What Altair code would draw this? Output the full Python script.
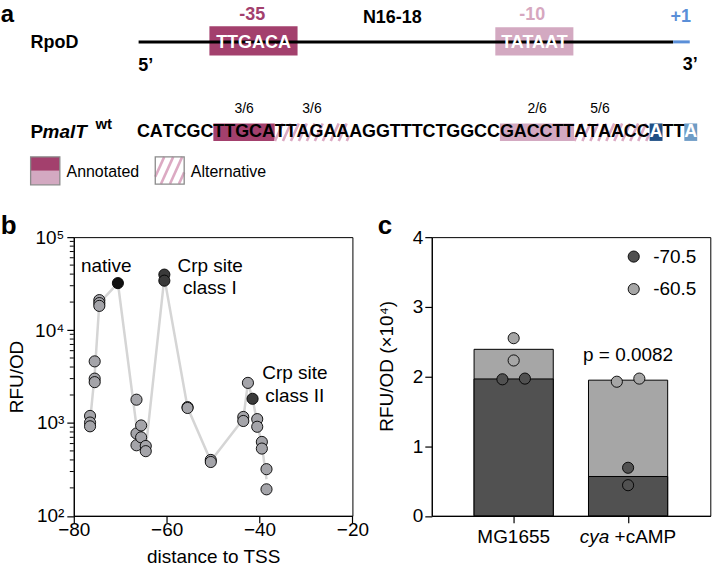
import altair as alt
import pandas as pd

FONT = "Liberation Sans"
MAGENTA = "#a3406d"
PINK = "#d3a9c1"
PINK_TEXT = "#d6a7c0"
STRIPE = "#dcaac3"
BLUE = "#5a8fd8"
DARK = "#515151"
LIGHT = "#a6a6a6"
KIND_FILL = {"variant": "#a4a4a9", "crp": "#3a3a3a", "native": "#111111"}

# ---------------- panel a: promoter sequence ----------------
sequence = "CATCGCTTGCATTAGAAAGGTTTCTGGCCGACCTTATAACCATTA"
motif_ratio = ["3/6", "3/6", "2/6", "5/6"]
motif_start = [7, 12, 30, 35]          # motif span, 1-based inclusive
motif_end = [11, 17, 35, 40]
shade_start = [7, 12, 30, 36]          # shaded span drawn under the letters
shade_end = [11, 17, 35, 41]
motif_kind = ["annotated35", "alternative", "annotated10", "alternative"]
tss_index = [42, 45]
tss_fill = ["#1f4f85", "#6e9cc6"]

# ---------------- panel b: RFU/OD of promoter variants ----------------
b_distance = [-76.5, -75.5, -74.5, -70.5, -66.5, -65.5, -64.5, -60.5,
              -55.5, -50.5, -43.5, -42.5, -41.5, -40.5, -39.5, -38.5]
b_rfu = [[1190, 1010, 920], [4600, 3000, 2750], [21000, 19500, 18200], [32000],
         [1780, 770, 575], [940, 700], [565, 497], [39500, 34000],
         [1480, 1450], [400, 380], [1160, 1050], [2700], [1820],
         [1100, 910], [625, 530], [318, 193]]
b_kind = ["variant"] * 3 + ["native"] + ["variant"] * 3 + ["crp"] + \
         ["variant"] * 4 + ["crp"] + ["variant"] * 3
b_notes = ["native", "Crp site", "class I", "Crp site", "class II"]
b_note_x = [-73.0, -50.65, -50.7, -32.4, -32.4]
b_note_y = [49000, 49000, 28400, 3430, 1960]

# ---------------- panel c: RFU/OD (x10^4) per strain ----------------
c_strains = ["MG1655", "cya +cAMP"]
c_sites = ["-70.5", "-60.5"]
c_strain = ["MG1655"] * 4 + ["cya +cAMP"] * 4
c_site = ["-70.5", "-70.5", "-60.5", "-60.5"] * 2
c_value = [1.96, 1.97, 2.55, 2.23, 0.69, 0.44, 1.925, 1.97]
c_lane = [-1, 1, 0, 0, 0, 0, -1, 1]
p_value = 0.0082

# ---------------- layout (page pixels) ----------------
LEFT, TOP = 73.3, 236.5
W_B, W_C, H = 279.4, 279.3, 279.5
GAP = 79.0
PAGE_W, PAGE_H = 712, 573
SEQ_X0, SEQ_Y, ADV = 136.7, 130, 17.9
SEQ_TOP, SEQ_BOT = 122.5, 140.0
LABEL_Y = 107
GLYPH_EM = {"A": 0.722, "C": 0.722, "G": 0.778, "T": 0.611}
BAR_W = 79.4
POS_DOMAIN = [-0.672, 1.675]      # strain slots 0 and 1, 119 px apart
JITTER = 0.0983                    # side-by-side replicate spacing, in slots

fx = alt.Scale(domain=[LEFT, LEFT + W_B], nice=False, zero=False)
fy = alt.Scale(domain=[TOP, TOP + H], nice=False, zero=False, reverse=True)


def fX(f):
    return alt.X(f, type="quantitative", scale=fx, axis=None)


def fY(f):
    return alt.Y(f, type="quantitative", scale=fy, axis=None)


def hatch(x0, x1, y0, y1, gap=8.0, lean=0.45):
    """Diagonal stripes clipped to the box [x0,x1] x [y0,y1]."""
    h = y1 - y0
    segs = []
    s = x0 - h * lean
    while s < x1:
        xa, ya = s, y1
        xb, yb = s + h * lean, y0
        if xa < x0:
            t = (x0 - xa) / (h * lean)
            xa, ya = x0, y1 - t * h
        if xb > x1:
            t = (x1 - s) / (h * lean)
            xb, yb = x1, y1 - t * h
        if xb > xa:
            segs.append((xa, xb, ya, yb, STRIPE, 2.6))
        s += gap
    return segs


def mid(y, fs):
    # vega's 'middle' baseline sits slightly above the cap centre
    return y + (1.5 if fs >= 17 else 1.0)


# character cell edges along the sequence row
edges = [SEQ_X0]
for ch in sequence:
    edges.append(edges[-1] + GLYPH_EM[ch] * ADV)

rects = []   # x, xe, y, ye, fill
rules = []   # x, xe, y, ye, color, width
texts = []   # t, x, y, fs, c, align, weight, style, baseline


def T(t, x, y, fs, c="black", align="left", weight="bold", style="normal", baseline="middle"):
    yy = mid(y, fs) if baseline == "middle" else y
    texts.append((t, x, yy, fs, c, align, weight, style, baseline))


# schematic RpoD promoter
rules.append((138.3, 674.3, 40.7, 40.7, "black", 3))
rules.append((674.3, 691.0, 40.7, 40.7, BLUE, 3))
rects.append((209.3, 297.7, 25.0, 54.3, MAGENTA))
rects.append((496.0, 574.3, 26.0, 54.3, PINK))
T("a", 0, 21, 24, baseline="alphabetic")
T("-35", 252.2, 12.7, 18, MAGENTA, "center")
T("N16-18", 392.7, 15, 18, align="center")
T("-10", 533.0, 12.7, 18, PINK_TEXT, "center")
T("+1", 682.0, 14, 18, BLUE, "center")
T("RpoD", 30, 40.5, 18)
T("TTGACA", 253.5, 40.3, 18, "white", "center")
T("TATAAT", 535.2, 40.3, 18, "white", "center")
T("5\u2019", 138, 63.5, 18)
T("3\u2019", 699, 62, 18, align="right")
T("P", 30, 130, 19)
T("malT", 42, 130, 19, style="italic")
T("wt", 95, 122, 15)
T("Annotated", 66, 170, 16, weight="normal")
T("Alternative", 190.7, 170, 16, weight="normal")
T("b", 0, 233, 26, baseline="alphabetic")
T("c", 378, 233, 26, baseline="alphabetic")

# motif highlights on the malT promoter sequence
fills = {"annotated35": MAGENTA, "annotated10": PINK}
for ratio, ms, me, s, e, kind in zip(motif_ratio, motif_start, motif_end,
                                     shade_start, shade_end, motif_kind):
    x0, x1 = edges[s - 1], edges[e]
    if kind == "alternative":
        rects.append((x0, x1, SEQ_TOP, SEQ_BOT, "white"))
        rules.extend(hatch(x0, x1, SEQ_TOP, SEQ_BOT))
    else:
        rects.append((x0, x1, SEQ_TOP, SEQ_BOT, fills[kind]))
    T(ratio, (edges[ms - 1] + edges[me]) / 2, LABEL_Y, 14, align="center", weight="normal")

for idx, col in zip(tss_index, tss_fill):
    rects.append((edges[idx - 1], edges[idx], SEQ_TOP, SEQ_BOT, col))

for i, ch in enumerate(sequence):
    colr = "white" if (i + 1) in tss_index else "black"
    T(ch, (edges[i] + edges[i + 1]) / 2, SEQ_Y, 18, colr, "center")

# key: annotated / alternative swatches
rects.append((30, 59.3, 156, 170, MAGENTA))
rects.append((30, 59.3, 170, 184, PINK))
rects.append((155, 184, 156, 183.3, "white"))
rules.extend(hatch(155, 184, 156, 183.3, gap=9.0))
outlines = [(30, 59.3, 156, 184), (155, 184, 156, 183.3)]

rect_df = pd.DataFrame(rects, columns=["x", "xe", "y", "ye", "fill"])
rule_df = pd.DataFrame(rules, columns=["x", "xe", "y", "ye", "c", "sw"])
outline_df = pd.DataFrame(outlines, columns=["x", "xe", "y", "ye"])
text_df = pd.DataFrame(texts, columns=["t", "x", "y", "fs", "c", "align", "weight", "style", "baseline"])
page_df = pd.DataFrame({"x": [0], "xe": [PAGE_W], "y": [0], "ye": [PAGE_H]})

frame_layers = [
    alt.Chart(page_df).mark_rect(fillOpacity=0, strokeWidth=0).encode(
        x=fX("x"), x2="xe", y=fY("y"), y2="ye"),
    alt.Chart(rect_df).mark_rect(strokeWidth=0).encode(
        x=fX("x"), x2="xe", y=fY("y"), y2="ye", fill=alt.Fill("fill:N", scale=None)),
    alt.Chart(rule_df).mark_rule(strokeCap="butt").encode(
        x=fX("x"), x2="xe", y=fY("y"), y2="ye",
        color=alt.Color("c:N", scale=None), strokeWidth=alt.StrokeWidth("sw:Q", scale=None)),
    alt.Chart(outline_df).mark_rect(filled=False, stroke="#8a8a8a", strokeWidth=1.3).encode(
        x=fX("x"), x2="xe", y=fY("y"), y2="ye"),
]
for (al, wt, st, bl), g in text_df.groupby(["align", "weight", "style", "baseline"]):
    frame_layers.append(
        alt.Chart(g.drop(columns=["align", "weight", "style", "baseline"])).mark_text(
            align=al, fontWeight=wt, fontStyle=st, baseline=bl, font=FONT).encode(
            x=fX("x"), y=fY("y"), text="t:N",
            size=alt.Size("fs:Q", scale=None), color=alt.Color("c:N", scale=None)))
frame = alt.layer(*frame_layers)

# ---------------- panel b ----------------
b_df = pd.DataFrame(
    [(d, v, k) for d, vals, k in zip(b_distance, b_rfu, b_kind) for v in vals],
    columns=["dist", "rfu", "kind"])
b_df["shade"] = b_df["kind"].map(KIND_FILL)
minor_df = pd.DataFrame({"rfu": [m * 10 ** e for e in (2, 3, 4) for m in range(2, 10)]})
note_df = pd.DataFrame({"dist": b_note_x, "rfu": b_note_y, "t": b_notes})

xs_b = alt.Scale(domain=[-80, -20], nice=False, zero=False)
ys_b = alt.Scale(type="log", domain=[100, 100000], nice=False)
sup = "{'100': '\u00b2', '1000': '\u00b3', '10000': '\u2074', '100000': '\u2075'}"
x_b = alt.X("dist:Q", scale=xs_b, axis=alt.Axis(
    values=[-80, -60, -40, -20], title="distance to TSS", labelBaseline="middle",
    labelPadding=7, titleY=41, titleBaseline="middle"))
y_b = alt.Y("rfu:Q", scale=ys_b, axis=alt.Axis(
    values=[100, 1000, 10000, 100000], title="RFU/OD", labelPadding=3,
    labelExpr="'10' + " + sup + "[datum.value + '']",
    titleX=-57.8, titleY=H / 2, titleBaseline="middle"))

trend = alt.Chart(b_df).transform_calculate(
    lg="log(datum.rfu) / LN10"
).transform_aggregate(
    mlg="mean(lg)", groupby=["dist"]
).transform_calculate(
    rfu="pow(10, datum.mlg)"
).mark_line(color="#d5d5d5", strokeWidth=2.5).encode(x=x_b, y=y_b)

minor = alt.Chart(minor_df).mark_rule(color="black", strokeWidth=1).encode(
    y=alt.Y("rfu:Q"), x=alt.value(-4), x2=alt.value(0))

dots_b = alt.Chart(b_df).mark_circle(size=125, opacity=1, stroke="black", strokeWidth=0.9).encode(
    x="dist:Q", y="rfu:Q", fill=alt.Fill("shade:N", scale=None))

notes_b = alt.Chart(note_df).mark_text(fontSize=19, font=FONT, align="center", baseline="middle").encode(
    x="dist:Q", y="rfu:Q", text="t:N")

panel_b = alt.layer(frame, alt.layer(trend, minor, dots_b, notes_b)).resolve_scale(
    x="independent", y="independent").properties(width=W_B, height=H)

# ---------------- panel c ----------------
c_df = pd.DataFrame({"strain": c_strain, "site": c_site, "value": c_value, "lane": c_lane})
c_df["pos"] = [c_strains.index(s) for s in c_strain]

x_c = alt.X("pos:Q", scale=alt.Scale(domain=POS_DOMAIN, nice=False, zero=False),
            axis=alt.Axis(values=[0, 1], labels=False, title=None))
y_c = alt.Y("value:Q", aggregate="mean", scale=alt.Scale(domain=[0, 4], nice=False, zero=True),
            axis=alt.Axis(values=[0, 1, 2, 3, 4], format="d", title="RFU/OD  (\u00d710\u2074)",
                          labelPadding=2, titleX=-45.7, titleY=129, titleBaseline="middle"))

bar_hi = alt.Chart(c_df).transform_filter(alt.datum.site == c_sites[1]).mark_bar(
    size=BAR_W, fill=LIGHT, stroke="black", strokeWidth=1).encode(x=x_c, y=y_c)
bar_lo = alt.Chart(c_df).transform_filter(alt.datum.site == c_sites[0]).mark_bar(
    size=BAR_W, fill=DARK, stroke="black", strokeWidth=1).encode(x="pos:Q", y="mean(value):Q")

dots_c = alt.Chart(c_df).transform_calculate(
    px="datum.pos + datum.lane * " + str(JITTER)
).mark_circle(size=125, opacity=1, stroke="black", strokeWidth=0.9).encode(
    x="px:Q", y="value:Q",
    fill=alt.Fill("site:N", scale=alt.Scale(domain=c_sites, range=[DARK, LIGHT]), legend=alt.Legend(
        orient="none", legendX=193, legendY=10, padding=0, title=None, labelFontSize=19,
        labelFont=FONT, labelColor="black", symbolType="circle", symbolSize=125,
        symbolStrokeColor="black", symbolStrokeWidth=0.9, symbolOpacity=1,
        rowPadding=12.6, labelOffset=10)))

p_df = pd.DataFrame({"pos": [1], "value": [2.304], "t": [f"p  = {p_value}"]})
p_text = alt.Chart(p_df).mark_text(fontSize=19, font=FONT, baseline="middle").encode(
    x="pos:Q", y="value:Q", text="t:N")

lab_df = pd.DataFrame({"pos": [0, 1]})
LAB_Y = 299.5 + 0.8
lab_main = alt.Chart(lab_df.iloc[[0]]).mark_text(fontSize=19, font=FONT, baseline="middle").encode(
    x="pos:Q", y=alt.value(LAB_Y), text=alt.value(c_strains[0]))
lab_cya = alt.Chart(lab_df.iloc[[1]]).mark_text(
    fontSize=19, font=FONT, fontStyle="italic", align="right", baseline="middle", dx=-18.8).encode(
    x="pos:Q", y=alt.value(LAB_Y), text=alt.value("cya"))
lab_camp = alt.Chart(lab_df.iloc[[1]]).mark_text(
    fontSize=19, font=FONT, align="left", baseline="middle", dx=-13.5).encode(
    x="pos:Q", y=alt.value(LAB_Y), text=alt.value("+cAMP"))

panel_c = alt.layer(bar_hi, bar_lo, dots_c, p_text, lab_main, lab_cya, lab_camp).properties(
    width=W_C, height=H)

chart = alt.hconcat(panel_b, panel_c, spacing=GAP, bounds="flush").resolve_scale(
    fill="independent"
).resolve_legend(
    fill="independent"
).properties(
    padding=0, autosize=alt.AutoSizeParams(type="pad"), background="white"
).configure(font=FONT).configure_view(
    stroke="black", strokeWidth=1
).configure_axis(
    grid=False, domainColor="black", tickColor="black", labelColor="black", titleColor="black",
    labelFont=FONT, titleFont=FONT, labelFontSize=19, titleFontSize=19, titleFontWeight="normal",
    tickSize=7, domainWidth=1.2, tickWidth=1.2, labelFlush=False
)

chart.save("out.html", embed_options={"renderer": "svg", "actions": False})
